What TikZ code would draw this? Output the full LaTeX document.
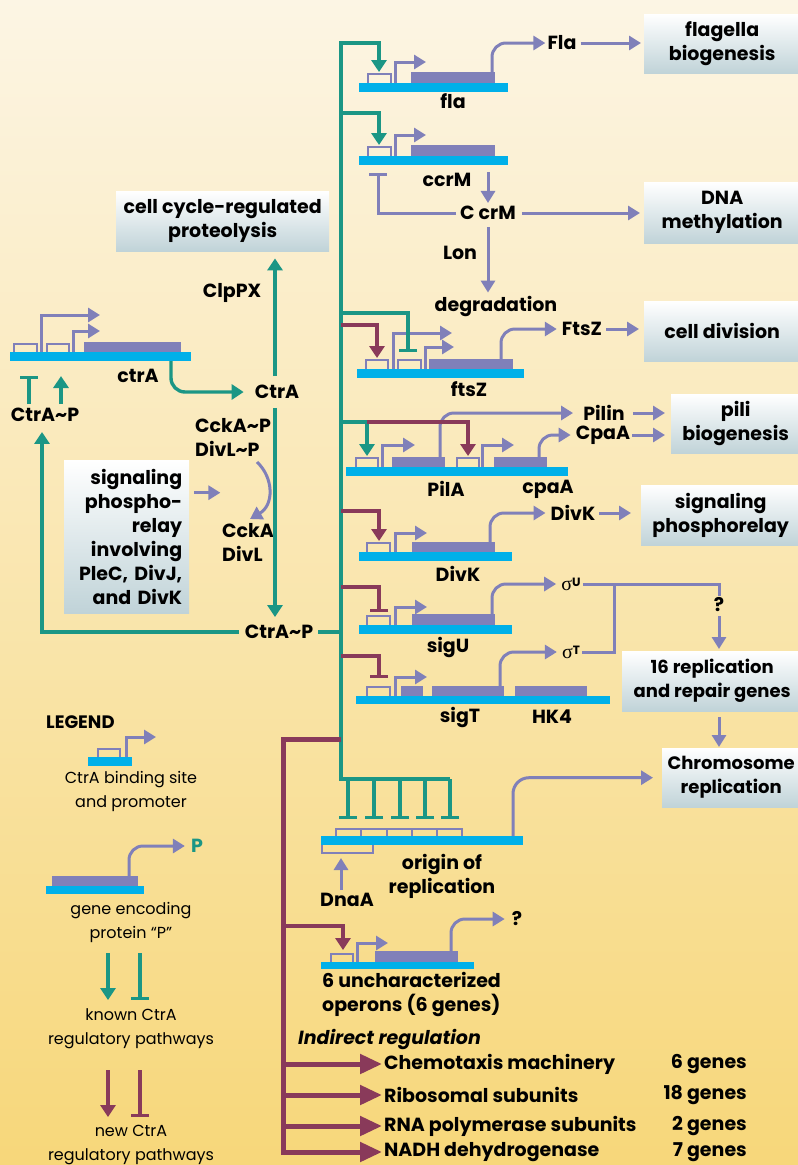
\documentclass[tikz,border=0pt]{standalone}
\usepackage{fontspec}
\setmainfont{Poppins}
\newfontfamily\grk{Liberation Serif}
\usetikzlibrary{arrows.meta,positioning}
\definecolor{ctgreen}{RGB}{27,150,133}
\definecolor{ctred}{RGB}{137,58,90}
\definecolor{ctblue}{RGB}{128,128,185}
\definecolor{dnacyan}{RGB}{0,176,233}
\definecolor{bgtop}{RGB}{252,245,228}
\definecolor{bgbot}{RGB}{247,215,122}
\definecolor{boxbot}{RGB}{192,211,216}

\begin{document}
\begin{tikzpicture}[x=1pt, y=-1pt, font=\fontsize{19}{24}\selectfont\bfseries]
\tikzset{
  box/.style={rectangle, anchor=north west, top color=white, middle color=white, bottom color=boxbot, align=center, inner sep=0pt},
  lbl/.style={inner sep=2pt, align=center},
  legtext/.style={inner sep=2pt, align=center, font=\fontsize{16}{24}\selectfont\mdseries},
  sigma/.style={inner sep=2pt, font=\fontsize{20}{20}\selectfont\grk\mdseries},
  dna/.style={fill=dnacyan},
  gene/.style={fill=ctblue},
  site/.style={draw=ctblue, line width=2.8pt},
  parr/.style={draw=ctblue, line width=3pt, -{Triangle[length=12pt,width=14pt]}},
  pinh/.style={draw=ctblue, line width=3pt, -{Bar[width=18pt]}},
  pline/.style={draw=ctblue, line width=3pt},
  tarr/.style={draw=ctgreen, line width=3.4pt, -{Triangle[length=12pt,width=15pt]}},
  tinh/.style={draw=ctgreen, line width=3.4pt, -{Bar[width=18pt]}},
  tline/.style={draw=ctgreen, line width=3.4pt},
  marr/.style={draw=ctred, line width=3.4pt, -{Triangle[length=12pt,width=15pt]}},
  minh/.style={draw=ctred, line width=3.4pt, -{Bar[width=18pt]}},
  mfat/.style={draw=ctred, line width=5pt, -{Triangle[length=22pt,width=19pt]}},
}
\useasboundingbox (0,0) rectangle (798,1165);
\clip (0,0) rectangle (798,1165);
\shade[top color=bgtop, bottom color=bgbot] (0,0) rectangle (798,1165);

% output boxes on the right
\node[box, minimum width=156pt, minimum height=59pt] (flabox) at (644,14) {flagella\\biogenesis};
\node[box, minimum width=156pt, minimum height=61pt] (methbox) at (644,182) {DNA\\methylation};
\node[box, minimum width=156pt, minimum height=60pt] (divbox) at (644,301) {cell division};
\node[box, minimum width=129pt, minimum height=59pt] (pilibox) at (671,394) {pili\\biogenesis};
\node[box, minimum width=159pt, minimum height=60pt] (sigbox) at (641,485) {signaling\\phosphorelay};
\node[box, minimum width=180pt, minimum height=60pt, font=\fontsize{18}{24}\selectfont\bfseries] (repbox) at (622,651) {16 replication\\and repair genes};
\node[box, minimum width=138pt, minimum height=59pt, font=\fontsize{18}{24}\selectfont\bfseries] (chrbox) at (662,748) {Chromosome\\replication};
\node[box, minimum width=213pt, minimum height=60pt] (protbox) at (116,191) {cell cycle-regulated\\proteolysis};
\node[box, minimum width=125pt, minimum height=153pt, text width=111pt, align=right] (relaybox) at (64,460) {signaling\\phospho-\\relay\\involving\\PleC, DivJ,\\and DivK};

% fla
\fill[dna] (359,83) rectangle (508,92);
\draw[site] (368,83) |- (391,74) -- (391,83);
\fill[gene] (411,72) rectangle (495,83);
\draw[parr] (395,83) |- (426,62);
\node[lbl] (fla) at (453,101) {fla};
\node[lbl] (Fla) at (562,43) {Fla};
\draw[parr, rounded corners=14pt] (492,72) |- (Fla.west);
\draw[parr, shorten <=2pt, shorten >=3pt] (Fla.east) -- (flabox.west |- Fla);

% ccrM
\fill[dna] (359,156) rectangle (508,165);
\draw[site] (368,156) |- (391,147) -- (391,156);
\fill[gene] (411,145) rectangle (495,156);
\draw[parr] (395,156) |- (426,135);
\node[lbl] (ccrM) at (447,180) {ccrM};
\node[lbl] (CcrMp) at (488,213) {C crM};
\node[lbl] (Lon) at (460,253) {Lon};
\node[lbl] (degr) at (496,306) {degradation};
\draw[parr, shorten >=1pt] (488,172) -- (CcrMp.north);
\draw[pinh, shorten <=2pt] (CcrMp.west) -| (378,173);
\draw[parr, shorten <=5pt, shorten >=1pt] (CcrMp.south) -- (CcrMp.south |- degr.north);
\draw[parr, shorten <=4pt, shorten >=4pt] (CcrMp.east) -- (methbox.west |- CcrMp);

% ftsZ
\fill[dna] (357,369) rectangle (524,378);
\draw[site] (366,369) |- (388,360) -- (388,369);
\draw[site] (398,369) |- (421,360) -- (421,369);
\fill[gene] (429,359) rectangle (513,369);
\draw[parr] (393,369) |- (452,333);
\draw[parr] (425,369) |- (454,347);
\node[lbl] (ftsZ) at (469,389) {ftsZ};
\node[lbl] (FtsZ) at (582,329) {FtsZ};
\draw[parr, rounded corners=14pt, shorten >=3pt] (501,359) |- (FtsZ.west);
\draw[parr, shorten <=2pt, shorten >=5pt] (FtsZ.east) -- (divbox.west |- FtsZ);

% PilA / cpaA
\fill[dna] (346,467) rectangle (568,476);
\draw[site] (356,467) |- (378,458) -- (378,467);
\draw[site] (457,467) |- (479,458) -- (479,467);
\fill[gene] (392,457) rectangle (445,467);
\fill[gene] (494,457) rectangle (547,467);
\draw[parr] (382,467) |- (415,445);
\draw[parr] (482,467) |- (514,445);
\node[lbl] (PilA) at (446,489) {PilA};
\node[lbl] (cpaA) at (548,489) {cpaA};
\node[lbl] (Pilin) at (604,413) {Pilin};
\node[lbl] (CpaA) at (603,435) {CpaA};
\draw[parr, rounded corners=14pt, shorten >=8pt] (440,457) |- (Pilin.west);
\draw[parr, rounded corners=14pt, shorten >=3pt] (539,457) |- (CpaA.west);
\draw[parr, shorten <=6pt, shorten >=6pt] (Pilin.east) -- (pilibox.west |- Pilin);
\draw[parr, shorten >=6pt] (CpaA.east) -- (pilibox.west |- CpaA);

% DivK
\fill[dna] (359,552) rectangle (512,561);
\draw[site] (367,552) |- (390,543) -- (390,552);
\fill[gene] (412,542) rectangle (495,552);
\draw[parr] (395,552) |- (427,533);
\node[lbl] (divK) at (458,574) {DivK};
\node[lbl] (DivKp) at (573,513) {DivK};
\draw[parr, rounded corners=14pt, shorten >=3pt] (490,542) |- (DivKp.west);
\draw[parr, shorten <=2pt, shorten >=10pt] (DivKp.east) -- (sigbox.west |- DivKp);

% sigU
\fill[dna] (359,625) rectangle (512,634);
\draw[site] (367,625) |- (390,616) -- (390,625);
\fill[gene] (412,614) rectangle (495,625);
\draw[parr] (395,625) |- (427,607);
\node[lbl] (sigU) at (448,647) {sigU};
\node[sigma] (sigmaU) at (571,584) {σ\raisebox{4pt}{\fontsize{12}{12}\selectfont\rmfamily\bfseries U}};
\draw[parr, rounded corners=14pt, shorten >=3pt] (492,614) |- (sigmaU.west);

% sigT / HK4
\fill[dna] (356,696) rectangle (610,704);
\draw[site] (367,696) |- (390,687) -- (390,696);
\fill[gene] (401,686) rectangle (423,696);
\fill[gene] (432,686) rectangle (504,696);
\fill[gene] (515,686) rectangle (587,696);
\draw[parr] (395,696) |- (427,677);
\node[lbl] (sigT) at (460,717) {sigT};
\node[lbl] (HK4) at (552,717) {HK4};
\node[sigma] (sigmaT) at (571,652) {σ\raisebox{4pt}{\fontsize{12}{12}\selectfont\rmfamily\bfseries T}};
\draw[parr, rounded corners=14pt, shorten >=3pt] (500,686) |- (sigmaT.west);

% sigma factors to replication genes
\node[lbl] (q1) at (719,605) {?};
\draw[pline] (sigmaU.east) -- (719,584) -- (q1.north);
\draw[pline] (sigmaT.east) -- (614,652) -- (614,584);
\draw[parr, shorten <=2pt, shorten >=2pt] (q1.south) -- (q1.south |- repbox.north);
\draw[parr, shorten <=6pt, shorten >=1pt] (repbox.south -| q1) -- (chrbox.north -| q1);

% origin of replication
\fill[dna] (321,836) rectangle (523,845);
\foreach \a/\b in {336/361,361/387,387/412,412/437,437/462}
  \draw[site] (\a,836) |- (\b,829) -- (\b,836);
\draw[site] (322,845) |- (373,853) -- (373,845);
\node[lbl, align=center] (ori) at (442,876) {origin of\\replication};
\node[lbl] (DnaA) at (347,900) {DnaA};
\draw[parr, shorten <=1pt] ([xshift=-6pt]DnaA.north) -- (341,858);
\draw[parr, rounded corners=16pt, shorten >=9pt] (513,836) |- (chrbox.west);

% 6 operons
\fill[dna] (321,962) rectangle (474,969);
\draw[site] (331,962) |- (353,954) -- (353,962);
\fill[gene] (375,951) rectangle (458,962);
\draw[parr] (357,962) |- (388,943);
\node[lbl] (q2) at (517,919) {?};
\draw[parr, rounded corners=14pt, shorten >=5pt] (451,951) |- (q2.west);
\node[lbl, anchor=north west, align=left] (oper) at (320,970) {6 uncharacterized\\operons (6 genes)};

% indirect regulation
\node[lbl, anchor=west, font=\fontsize{19}{24}\selectfont\bfseries\itshape] (indir) at (296,1039) {Indirect regulation};
\node[lbl, anchor=west] (ind1) at (382,1064) {Chemotaxis machinery};
\node[lbl, anchor=west] (ind2) at (382,1095) {Ribosomal subunits};
\node[lbl, anchor=west] (ind3) at (382,1126) {RNA polymerase subunits};
\node[lbl, anchor=west] (ind4) at (382,1152) {NADH dehydrogenase};
\node[lbl, anchor=east] (n1) at (749,1064) {6 genes};
\node[lbl, anchor=east] (n2) at (749,1095) {18 genes};
\node[lbl, anchor=east] (n3) at (749,1126) {2 genes};
\node[lbl, anchor=east] (n4) at (749,1152) {7 genes};

% ctrA gene and CtrA loop
\fill[dna] (10,352) rectangle (191,361);
\draw[site] (14,352) |- (37,344) -- (37,352);
\draw[site] (47,352) |- (69,344) -- (69,352);
\fill[gene] (84,342) rectangle (181,352);
\draw[parr] (41,352) |- (100,315);
\draw[parr] (73,352) |- (100,331);
\node[lbl] (ctrA) at (138,376) {ctrA};
\node[lbl] (CtrApA) at (45,415) {CtrA\textasciitilde P};
\draw[tinh, shorten <=2pt] ([xshift=-16pt]CtrApA.north) -- ++(0,-30);
\draw[tarr, shorten <=2pt] ([xshift=16pt]CtrApA.north) -- ++(0,-30);
\node[lbl] (CtrA) at (277,392) {CtrA};
\draw[tarr, rounded corners=14pt, shorten >=9pt] (171,361) |- (CtrA.west);
\node[lbl] (ClpPX) at (232,293) {ClpPX};
\draw[tarr, shorten <=7pt, shorten >=7pt] ([xshift=-2pt]CtrA.north) -- ([xshift=-2pt]CtrA.north |- protbox.south);
\node[lbl, anchor=west, align=left] (CckAP) at (193,437) {CckA\textasciitilde P\\DivL\textasciitilde P};
\node[lbl, anchor=west, align=left] (CckA) at (220,542) {CckA\\DivL};
\draw[parr] (257,462) .. controls (274,478) and (274,505) .. (250,519);
\draw[parr, shorten <=5pt] ([yshift=44pt]relaybox.east) -- ++(31,0);
\node[lbl] (CtrApB) at (279,632) {CtrA\textasciitilde P};
\draw[tarr, shorten <=7pt, shorten >=6pt] ([xshift=-2pt]CtrA.south) -- ([xshift=-2pt]CtrA.south |- CtrApB.north);
\draw[tarr, shorten <=4pt, shorten >=8pt] (CtrApB.west) -| (42,0 |- CtrApA.south);

% main CtrA~P line and its direct targets
\draw[tarr] (450,779) -- (341,779) -- (341,43) -| (379,72);
\draw[tline, shorten <=3pt] (CtrApB.east) -- (341,632);
\draw[tarr] (341,113) -| (379,145);
\draw[tinh] (341,313) -| (408,352);
\draw[marr] (341,325) -| (377,358);
\draw[tarr] (341,422) -| (367,456);
\draw[marr] (367,422) -| (468,456);
\draw[marr] (341,511) -| (379,541);
\draw[minh] (341,587) -| (379,612);
\draw[minh] (341,656) -| (379,678);
\foreach \x in {348,374,400,425,450}
  \draw[tinh] (\x,779) -- (\x,819);

% new pathways (maroon trunk)
\draw[mfat] (341,739) -- (283,739) -- (283,1152) -- (ind4.west);
\draw[marr] (283,926) -| (343,950);
\foreach \k in {ind1,ind2,ind3}
  \draw[mfat] (283,0 |- \k.west) -- (\k.west);

% legend
\node[lbl, anchor=west, font=\fontsize{18}{22}\selectfont\bfseries] (legend) at (44,722) {LEGEND};
\fill[dna] (88,757) rectangle (132,766);
\draw[site] (98,757) |- (120,749) -- (120,757);
\draw[parr] (126,757) |- (156,737);
\node[legtext] (leg1) at (131,791) {CtrA binding site\\and promoter};
\fill[dna] (46,886) rectangle (144,894);
\fill[gene] (52,876) rectangle (138,886);
\node[lbl, text=ctgreen] (legP) at (197,846) {P};
\draw[parr, rounded corners=14pt, shorten >=4pt] (129,876) |- (legP.west);
\node[legtext] (leg2) at (131,922) {gene encoding\\protein ``P''};
\draw[tarr] (108,953) -- (108,1000);
\draw[tinh] (140,953) -- (140,1000);
\node[legtext] (leg3) at (131,1029) {known CtrA\\regulatory pathways};
\draw[marr] (108,1070) -- (108,1117);
\draw[minh] (140,1070) -- (140,1117);
\node[legtext] (leg4) at (131,1145) {new CtrA\\regulatory pathways};
\end{tikzpicture}
\end{document}
